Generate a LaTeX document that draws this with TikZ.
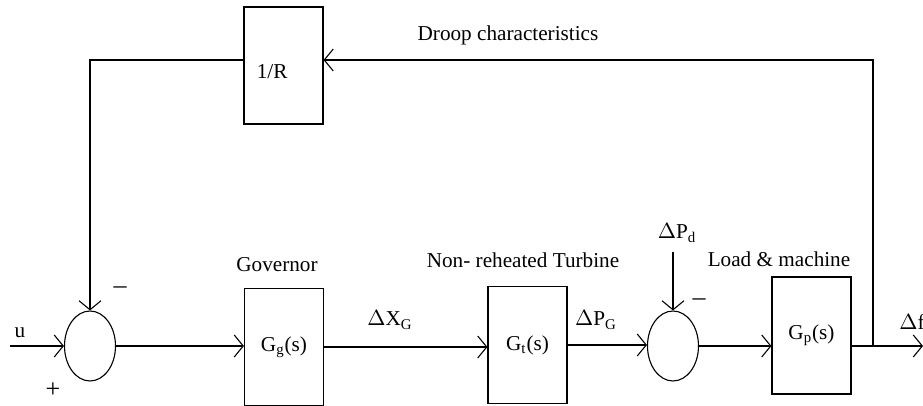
\documentclass[tikz,border=0pt]{standalone}
\usepackage{fontspec}
\setmainfont{Liberation Serif}
\usepackage{tikz}
\usetikzlibrary{arrows.meta, positioning, calc, shapes.geometric}

\begin{document}
\begin{tikzpicture}[
    x=0.5pt, y=-0.5pt,
    font=\fontsize{10.6}{12}\selectfont,
    block/.style={
        rectangle,
        draw,
        line width=0.55pt,
        minimum width=39.5pt,
        minimum height=58.5pt,
        inner sep=0pt
    },
    sumnode/.style={
        ellipse,
        draw,
        line width=0.55pt,
        minimum width=25.5pt,
        minimum height=35pt,
        inner sep=0pt
    },
    sign/.style={font=\fontsize{13}{14}\selectfont},
    arrow/.style={-{Straight Barb[length=4.5pt, width=11pt]}, line width=0.55pt},
    wire/.style={line width=0.55pt}
]
\useasboundingbox (0,0) rectangle (923,406);

% forward path
\node[sumnode] (sumf) at (90,346) {};
\node[block] (gov) at (284,347) {G\textsubscript{g}(s)};
\node[block] (turb) at (527.5,345) {G\textsubscript{t}(s)};
\node[sumnode] (suml) at (673,346) {};
\node[block] (load) at (811.5,335.5) {G\textsubscript{p}(s)};

% droop block
\node[block, label={[anchor=west, inner sep=6.5pt, yshift=-3pt]west:1/R}] (droop) at (283.5,65.5) {};

\coordinate (uin) at (10,346);
\coordinate (tap) at (873,346);
\coordinate (fout) at (923,346);
\coordinate (fbtop) at (873,60);
\coordinate (pdin) at (673,252);

\draw[arrow] (uin) -- (sumf.west);
\draw[arrow] (sumf.east) -- (sumf.east -| gov.west);
\draw[arrow] (gov.east) -- (gov.east -| turb.west);
\draw[arrow] (turb.east) -- (turb.east -| suml.west);
\draw[arrow] (suml.east) -- (suml.east -| load.west);
\draw[wire] (suml.east -| load.east) -- (tap);
\draw[arrow] (tap) -- (fout);
\draw[arrow] (pdin) -- (suml.north);

% feedback
\draw[arrow] (tap) -- (fbtop) -- (fbtop -| droop.east);
\draw[arrow] (fbtop -| droop.west) -| (sumf.north);

% labels
\node (lu) at (20,333) {u};
\node[sign] (lplus) at (53,390) {+};
\node[sign] (lmin1) at (120,290) {\textendash};
\node[sign] (lmin2) at (699,302) {\textendash};
\node (lgov) at (277,265) {Governor};
\node (lxg) at (390,320) {$\Delta$X\textsubscript{G}};
\node (lturb) at (523,260) {Non- reheated Turbine};
\node (lpg) at (596,320) {$\Delta$P\textsubscript{G}};
\node (lpd) at (677,233) {$\Delta$P\textsubscript{d}};
\node (lload) at (779,259) {Load \& machine};
\node[anchor=west, inner sep=0pt] (ldf) at (899,322) {$\Delta$f};
\node (ldroop) at (508,35) {Droop characteristics};

\end{tikzpicture}
\end{document}
